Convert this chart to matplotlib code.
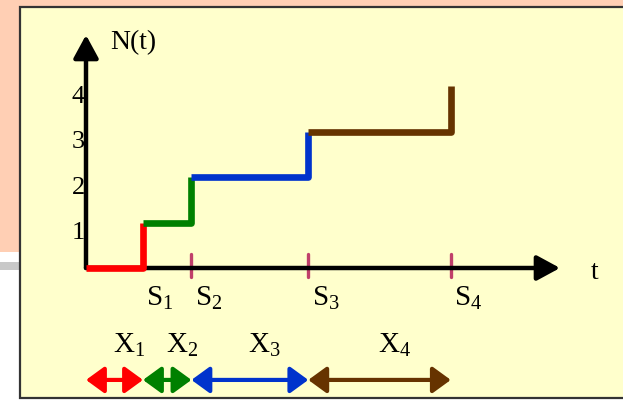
import matplotlib.pyplot as plt
from matplotlib.patches import Rectangle

# Arrival times of a counting process and the count reached at each one.
arrival_times = [1.0, 1.85, 3.9, 6.4]
counts = [1, 2, 3, 4]
colors = ['#FF0000', '#008000', '#0033CC', '#663300']
arrival_labels = ['S$_1$', 'S$_2$', 'S$_3$', 'S$_4$']
gap_labels = ['X$_1$', 'X$_2$', 'X$_3$', 'X$_4$']
count_ticks = [1, 2, 3, 4]

plt.rcParams['font.family'] = 'Liberation Serif'
plt.rcParams['mathtext.fontset'] = 'custom'
plt.rcParams['mathtext.rm'] = 'Liberation Serif'
plt.rcParams['mathtext.it'] = 'Liberation Serif'

W, H = 623, 400
fig = plt.figure(figsize=(W / 100, H / 100), dpi=100)
fig.patch.set_facecolor('white')


def px_rect(x0, y0, x1, y1, **kw):
    # rectangle given in pixels from the top-left corner
    return Rectangle((x0 / W, 1 - y1 / H), (x1 - x0) / W, (y1 - y0) / H,
                     transform=fig.transFigure, zorder=-10, **kw)


# slide background behind the panel
fig.patches.append(px_rect(0, 0, W, 252, facecolor='#FFCFB4', lw=0))
fig.patches.append(px_rect(0, 262, 20, 270, facecolor='#C8C8C8', lw=0))
fig.patches.append(px_rect(20, 7, W + 10, 398, facecolor='#FFFFCC',
                           edgecolor='#333333', lw=1.6))

# origin of the plot sits at pixel (86, 268); 57 px per time unit, 45.5 px per count
ax = fig.add_axes([0, 0, 1, 1])
ax.set_xlim(-86 / 57, (W - 86) / 57)
ax.set_ylim(-(H - 268) / 45.5, 268 / 45.5)
ax.axis('off')

x_end = (560 - 86) / 57
y_end = (268 - 35) / 45.5
axis_style = dict(arrowstyle='-|>,head_length=0.7,head_width=0.38', color='black',
                  lw=3.2, mutation_scale=20, shrinkA=0, shrinkB=0)
ax.annotate('', xy=(x_end, 0), xytext=(0, 0), arrowprops=axis_style)
ax.annotate('', xy=(0, y_end), xytext=(0, 0), arrowprops=axis_style)
ax.text(8.86, -0.09, 't', fontsize=20, ha='left', va='center')
ax.text(0.42, 4.95, 'N(t)', fontsize=20, ha='left', va='center')

for c in count_ticks:
    ax.text(-0.02, c - 0.24, str(c), fontsize=19, ha='right', va='center')

# tick marks on the time axis
for t in arrival_times[1:]:
    ax.plot([t, t], [-0.2, 0.31], color='#C0406A', lw=2.4, solid_capstyle='round')

# staircase path, one colour per inter-arrival interval
prev_t, prev_n = 0, 0
for t, n, col in zip(arrival_times, counts, colors):
    ax.plot([prev_t, t, t], [prev_n, prev_n, n], color=col, lw=4.8,
            solid_joinstyle='round', solid_capstyle='butt', zorder=3)
    prev_t, prev_n = t, n

for t, lab in zip(arrival_times, arrival_labels):
    ax.text(t + 0.06, -0.84, lab, fontsize=21, ha='left', va='baseline')

# inter-arrival gaps drawn as double arrows under the axis
prev_t = 0
for t, lab, col in zip(arrival_times, gap_labels, colors):
    ax.annotate('', xy=(t, -2.46), xytext=(prev_t, -2.46),
                arrowprops=dict(arrowstyle='<|-|>,head_length=0.55,head_width=0.4',
                                color=col, lw=3.0, mutation_scale=20,
                                shrinkA=0, shrinkB=0))
    ax.text((prev_t + t) / 2 - 0.03, -1.87, lab, fontsize=21, ha='left',
            va='baseline')
    prev_t = t

fig.savefig('out.png', dpi=100)
